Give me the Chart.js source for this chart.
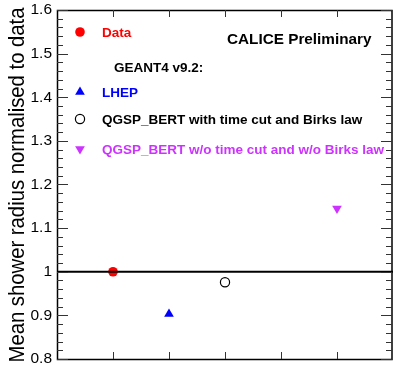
<!DOCTYPE html>
<html>
<head>
<meta charset="utf-8">
<script src="https://cdn.jsdelivr.net/npm/chart.js@4.4.0/dist/chart.umd.min.js"></script>
<style>
html, body { margin: 0; padding: 0; background: #fff; overflow: hidden; }
#wrap { width: 393px; height: 366px; position: relative; }
canvas { display: block; }
</style>
</head>
<body>
<div id="wrap"><canvas id="radiusChart"></canvas></div>
<script>
// series
const seriesNames = ['Data', 'LHEP', 'QGSP_BERT with time cut and Birks law', 'QGSP_BERT w/o time cut and w/o Birks law'];
const seriesX = [1, 2, 3, 5];
const seriesY = [1.0, 0.903, 0.976, 1.145];

// marker look per series
const seriesColors = ['#ff0000', '#0000ff', '#000000', '#cc33ff'];
const seriesStyles = ['circle', 'triangle', 'circle', 'triangle'];
const seriesRotation = [0, 0, 0, 180];
const seriesFilled = [true, true, false, true];
const seriesRadius = [4.8, 5.6, 4.6, 5.6];

// axes
const xRange = [0, 6];
const xTickValues = [1, 2, 3, 4, 5];
const yRange = [0.8, 1.6];
const yMajorStep = 0.1;
const yMinorStep = 0.02;
const referenceLevel = 1;
const yTitle = 'Mean shower radius normalised to data';

const FONT = '"Liberation Sans", Arial, Helvetica, sans-serif';

const datasets = seriesNames.map((name, i) => ({
    label: name,
    data: [{ x: seriesX[i], y: seriesY[i] }],
    pointStyle: seriesStyles[i],
    rotation: seriesRotation[i],
    pointRadius: seriesRadius[i],
    pointBackgroundColor: seriesFilled[i] ? seriesColors[i] : 'rgba(0,0,0,0)',
    pointBorderColor: seriesColors[i],
    pointBorderWidth: seriesFilled[i] ? 0 : 1.2,
    showLine: false
}));

// horizontal line at y = 1 across the whole x range
datasets.unshift({
    label: 'reference',
    type: 'line',
    data: xRange.map(x => ({ x: x, y: referenceLevel })),
    borderColor: '#000',
    borderWidth: 2,
    pointRadius: 0
});

// frame + inside ticks, ROOT style
const framePlugin = {
    id: 'frame',
    afterDatasetsDraw(chart) {
        const ctx = chart.ctx;
        const a = chart.chartArea;
        const xs = chart.scales.x;
        const ys = chart.scales.y;
        ctx.save();
        ctx.strokeStyle = '#000';
        ctx.lineWidth = 1.5;
        ctx.strokeRect(a.left + 0.5, a.top + 0.5, a.right - a.left - 1.5, a.bottom - a.top);

        ctx.lineWidth = 1;
        ctx.strokeStyle = '#333';
        const nMinor = Math.round((yRange[1] - yRange[0]) / yMinorStep);
        for (let k = 0; k <= nMinor; k++) {
            const v = yRange[0] + k * yMinorStep;
            const major = k % Math.round(yMajorStep / yMinorStep) === 0;
            const len = major ? 11 : 6;
            const py = Math.round(ys.getPixelForValue(v)) + 0.5;
            ctx.beginPath();
            ctx.moveTo(a.left, py); ctx.lineTo(a.left + len, py);
            ctx.moveTo(a.right - 1, py); ctx.lineTo(a.right - 1 - len, py);
            ctx.stroke();
        }
        xTickValues.forEach(v => {
            const px = Math.round(xs.getPixelForValue(v)) + 0.5;
            ctx.beginPath();
            ctx.moveTo(px, a.bottom); ctx.lineTo(px, a.bottom - 7);
            ctx.moveTo(px, a.top); ctx.lineTo(px, a.top + 7);
            ctx.stroke();
        });

        // y title, a bit condensed like the original
        ctx.save();
        ctx.font = '22px ' + FONT;
        ctx.fillStyle = '#000';
        const w = ctx.measureText(yTitle).width;
        const span = 355;
        ctx.translate(24, 185);
        ctx.rotate(-Math.PI / 2);
        ctx.scale(span / w, 1);
        ctx.textAlign = 'center';
        ctx.textBaseline = 'alphabetic';
        ctx.fillText(yTitle, 0, 0);
        ctx.restore();
        ctx.restore();
    }
};

// hand-placed legend and labels, as in the original ROOT canvas
const legendPlugin = {
    id: 'rootLegend',
    afterDraw(chart) {
        const ctx = chart.ctx;
        const a = chart.chartArea;
        const rowsY = [a.top + 22, a.top + 82, a.top + 109, a.top + 139];
        const markerX = a.left + 23;
        const textX = a.left + 45;
        ctx.save();
        ctx.textBaseline = 'middle';
        ctx.textAlign = 'left';
        seriesNames.forEach((name, i) => {
            ctx.fillStyle = seriesFilled[i] ? seriesColors[i] : 'rgba(0,0,0,0)';
            ctx.strokeStyle = seriesColors[i];
            ctx.lineWidth = seriesFilled[i] ? 0 : 1.2;
            Chart.helpers.drawPoint(ctx, {
                pointStyle: seriesStyles[i],
                rotation: seriesRotation[i],
                radius: seriesRadius[i],
                borderWidth: seriesFilled[i] ? 0 : 1.2
            }, markerX, rowsY[i]);
            ctx.fillStyle = seriesColors[i];
            ctx.font = 'bold 13.5px ' + FONT;
            ctx.fillText(name, textX, rowsY[i] + 1);
        });
        ctx.fillStyle = '#000';
        ctx.font = 'bold 13.5px ' + FONT;
        ctx.fillText('GEANT4 v9.2:', a.left + 57, a.top + 58);
        ctx.font = 'bold 15.3px ' + FONT;
        ctx.fillText('CALICE Preliminary', a.left + 170, a.top + 30);
        ctx.restore();
    }
};

const ctx = document.getElementById('radiusChart').getContext('2d');
const radiusChart = new Chart(ctx, {
    type: 'scatter',
    data: { datasets: datasets },
    options: {
        responsive: true,
        maintainAspectRatio: false,
        animation: false,
        layout: { autoPadding: false, padding: { top: 10, bottom: 7, right: 0, left: 0 } },
        plugins: {
            legend: { display: false },
            tooltip: { enabled: false }
        },
        scales: {
            x: {
                type: 'linear',
                display: false,
                min: xRange[0],
                max: xRange[1]
            },
            y: {
                type: 'linear',
                min: yRange[0],
                max: yRange[1],
                afterFit(scale) {
                    scale.width = 57;
                    scale.paddingTop = 0;
                    scale.paddingBottom = 0;
                },
                border: { display: false },
                grid: { display: false, drawTicks: false },
                ticks: {
                    stepSize: yMajorStep,
                    padding: 5,
                    color: '#000',
                    font: { family: FONT, size: 15.5 },
                    callback: v => (Math.round(v * 10) / 10).toString()
                }
            }
        }
    },
    plugins: [framePlugin, legendPlugin]
});
</script>
</body>
</html>
